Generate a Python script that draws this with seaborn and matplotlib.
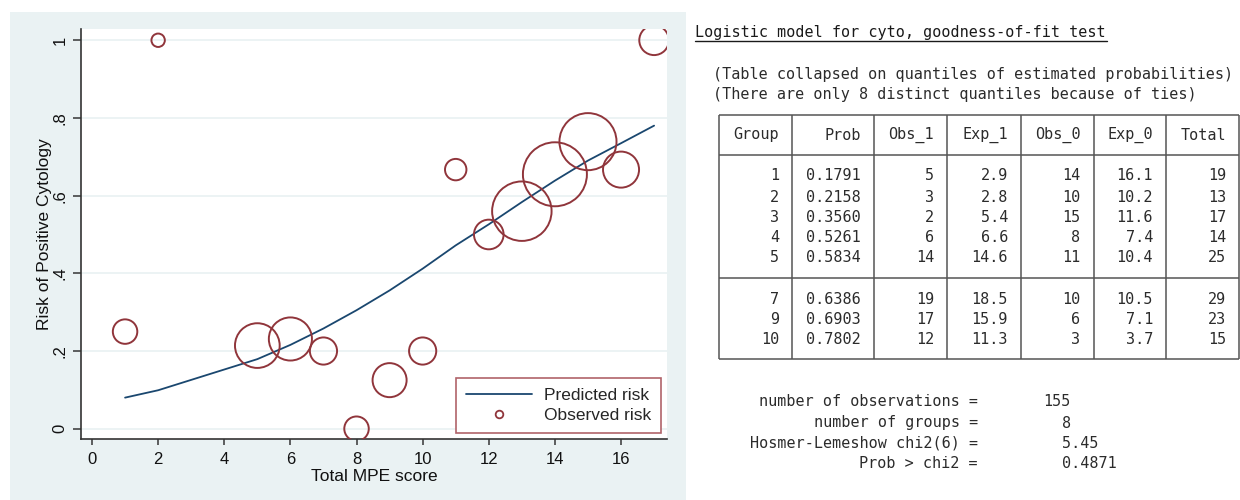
import numpy as np
import pandas as pd
import matplotlib
matplotlib.use("Agg")
import matplotlib.pyplot as plt
import seaborn as sns
from matplotlib.lines import Line2D
from matplotlib.patches import Rectangle

# ---------------- data ----------------
score = [1, 2, 5, 6, 7, 8, 9, 10, 11, 12, 13, 14, 15, 16, 17]
n_obs = [4, 1, 14, 13, 5, 4, 8, 5, 3, 6, 25, 29, 23, 9, 6]
observed = [0.25, 1.0, 0.214, 0.231, 0.20, 0.0, 0.125, 0.20, 0.667, 0.50,
            0.56, 0.655, 0.739, 0.667, 1.0]
predicted = [0.080, 0.099, 0.1791, 0.2158, 0.258, 0.305, 0.3560, 0.412,
             0.472, 0.5261, 0.5834, 0.6386, 0.6903, 0.735, 0.7802]

x_ticks = [0, 2, 4, 6, 8, 10, 12, 14, 16]
y_ticks = [0, 0.2, 0.4, 0.6, 0.8, 1.0]
y_tick_labels = ["0", ".2", ".4", ".6", ".8", "1"]

title_text = "Logistic model for cyto, goodness-of-fit test"
note_lines = ["(Table collapsed on quantiles of estimated probabilities)",
              "(There are only 8 distinct quantiles because of ties)"]
header = ["Group", "Prob", "Obs_1", "Exp_1", "Obs_0", "Exp_0", "Total"]
group = ["1", "2", "3", "4", "5", "7", "9", "10"]
prob = ["0.1791", "0.2158", "0.3560", "0.5261", "0.5834", "0.6386", "0.6903", "0.7802"]
obs1 = ["5", "3", "2", "6", "14", "19", "17", "12"]
exp1 = ["2.9", "2.8", "5.4", "6.6", "14.6", "18.5", "15.9", "11.3"]
obs0 = ["14", "10", "15", "8", "11", "10", "6", "3"]
exp0 = ["16.1", "10.2", "11.6", "7.4", "10.4", "10.5", "7.1", "3.7"]
total = ["19", "13", "17", "14", "25", "29", "23", "15"]
stat_labels = ["number of observations =", "number of groups =",
               "Hosmer-Lemeshow chi2(6) =", "Prob > chi2 ="]
stat_values = ["155", "8", "5.45", "0.4871"]

# ---------------- style ----------------
sns.set_style("white")
plt.rcParams["font.family"] = ["Liberation Sans", "DejaVu Sans"]

NAVY = "#1A476F"
CRAN = "#90353B"
BG = "#EAF2F3"
TXT = "#2b2b2b"

W, H = 1240, 500
fig = plt.figure(figsize=(W / 100, H / 100), dpi=100)

# overlay axes in pixel coordinates (background + text panel)
ov = fig.add_axes([0, 0, 1, 1], zorder=0)
ov.set_xlim(0, W)
ov.set_ylim(H, 0)
ov.axis("off")
ov.add_patch(Rectangle((10, 12), 676, 488, facecolor=BG, edgecolor="none"))

# ---------------- main plot ----------------
ax = fig.add_axes([81 / W, 1 - 439 / H, (667 - 81) / W, (439 - 29) / H], zorder=1)
ax.set_facecolor("white")

df = pd.DataFrame({"score": score, "n": n_obs, "observed": observed,
                   "predicted": predicted})

for yt in y_ticks:
    ax.axhline(yt, color=BG, lw=1.3, zorder=0)

sns.lineplot(data=df, x="score", y="predicted", ax=ax, color=NAVY, lw=1.3,
             estimator=None, sort=True, legend=False, zorder=2)
sns.scatterplot(data=df, x="score", y="observed", size="n", sizes=(93, 2123),
                size_norm=(1, 29), ax=ax, legend=False, zorder=3,
                edgecolor=CRAN, linewidth=1.4)
ax.collections[-1].set_facecolor("none")
ax.collections[-1].set_edgecolor(CRAN)

ax.set_xlim(-0.333, 17.39)
ax.set_ylim(-0.0265, 1.029)
ax.set_xticks(x_ticks)
ax.set_xticklabels([str(v) for v in x_ticks])
ax.set_yticks(y_ticks)
ax.set_yticklabels(y_tick_labels, rotation=90, va="center")

for s in ["top", "right"]:
    ax.spines[s].set_visible(False)
for s in ["left", "bottom"]:
    ax.spines[s].set_color("#333333")
    ax.spines[s].set_linewidth(1.2)

ax.tick_params(axis="x", direction="out", length=4.5, width=1.2, color="#444444",
               pad=5, labelsize=12, labelcolor="#111111", bottom=True)
ax.tick_params(axis="y", direction="out", length=5.5, width=1.2, color="#444444",
               pad=4, labelsize=12, labelcolor="#111111", left=True)

ax.set_xlabel("Total MPE score", fontsize=12.5, color="#111111")
ax.set_ylabel("Risk of Positive Cytology", fontsize=12.5, color="#111111")
ax.xaxis.set_label_coords(0.5, -0.072)
ax.yaxis.set_label_coords(-0.05, 0.5)

handles = [Line2D([0], [0], color=NAVY, lw=1.3),
           Line2D([0], [0], marker="o", ls="", mfc="none", mec=CRAN, ms=5.5, mew=1.3)]
leg = ax.legend(handles, ["Predicted risk", "Observed risk"], loc="lower right",
                bbox_to_anchor=(0.989, 0.015), fontsize=12.5, frameon=True,
                fancybox=False, framealpha=1, edgecolor="#B0636A",
                handlelength=3.8, handletextpad=0.7, borderpad=0.55,
                labelspacing=0.3, borderaxespad=0)
leg.get_frame().set_linewidth(1.2)

# ---------------- text panel ----------------
MONO = ["DejaVu Sans Mono"]
FS = 10.9
ov.text(695, 33, title_text, fontsize=FS, family=MONO, color="#1a1a1a",
        ha="left", va="center")
ov.plot([695, 1107], [41, 41], color="#1a1a1a", lw=1.0)
ov.text(713, 74, note_lines[0], fontsize=FS, family=MONO, color=TXT, ha="left", va="center")
ov.text(713, 95, note_lines[1], fontsize=FS, family=MONO, color=TXT, ha="left", va="center")

col_edges = [719, 792, 873.5, 947, 1021, 1093.5, 1166, 1239]
LC = "#555555"
LW = 1.1
top_y, head_sep, mid_sep, bot_y = 115, 155, 278, 359
for y in [top_y, head_sep, mid_sep, bot_y]:
    ov.plot([col_edges[0], col_edges[-1]], [y, y], color=LC, lw=LW,
            solid_capstyle="butt")
for xe in col_edges:
    ov.plot([xe, xe], [top_y, bot_y], color=LC, lw=LW, solid_capstyle="butt")

for j, h in enumerate(header):
    ov.text(col_edges[j + 1] - 13, 135, h, fontsize=FS, family=MONO, color=TXT,
            ha="right", va="center")

row_y = [176, 197, 217, 238, 258, 299, 319, 339]
columns = [group, prob, obs1, exp1, obs0, exp0, total]
for j, col in enumerate(columns):
    for i, val in enumerate(col):
        ov.text(col_edges[j + 1] - 13, row_y[i], val, fontsize=FS, family=MONO,
                color=TXT, ha="right", va="center")

stat_y = [402, 423, 443, 464]
for i, (lab, val) in enumerate(zip(stat_labels, stat_values)):
    ov.text(978, stat_y[i], lab, fontsize=FS, family=MONO, color=TXT,
            ha="right", va="center")
    if i < 2:
        ov.text(1071, stat_y[i], val, fontsize=FS, family=MONO, color=TXT,
                ha="right", va="center")
    else:
        ov.text(1062, stat_y[i], val, fontsize=FS, family=MONO, color=TXT,
                ha="left", va="center")

fig.savefig("out.png", dpi=100, facecolor="white")
